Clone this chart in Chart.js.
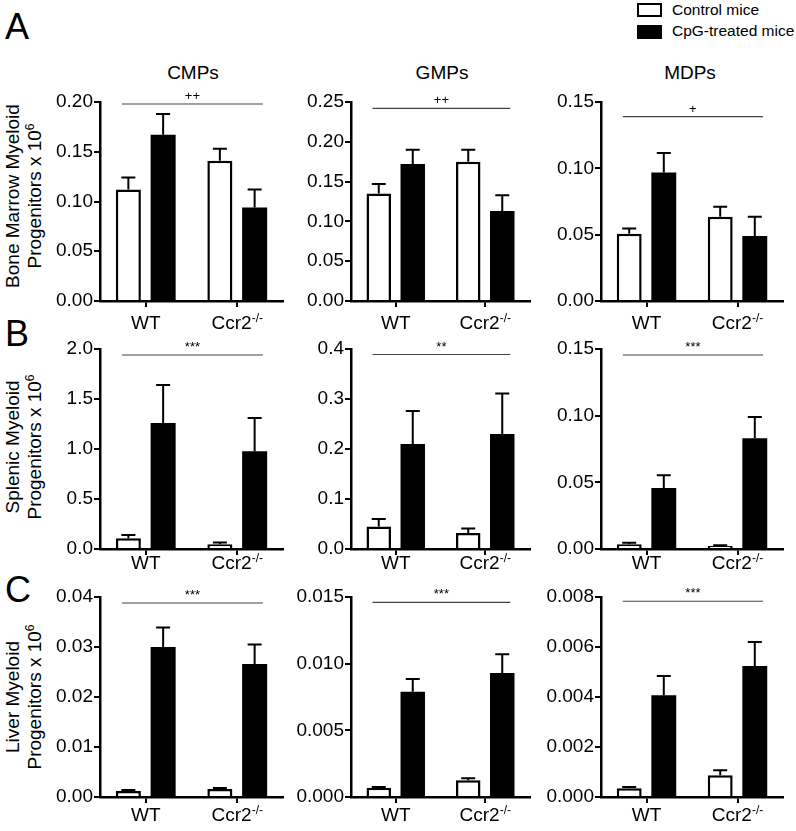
<!DOCTYPE html>
<html>
<head>
<meta charset="utf-8">
<script src="https://cdn.jsdelivr.net/npm/chart.js@4"></script>
<style>
body { margin: 0; background: #fff; width: 796px; height: 831px; position: relative; overflow: hidden;
       font-family: "Liberation Sans", Arial, sans-serif; color: #000; }
canvas { position: absolute; }
.letter { position: absolute; left: 5px; font-size: 36px; line-height: 36px; }
.title { position: absolute; top: 63px; font-size: 19px; line-height: 20px; transform: translateX(-50%); }
.ytitle { position: absolute; left: 24px; font-size: 19px; line-height: 22px; white-space: nowrap; text-align: center;
          transform: translate(-50%, -50%) rotate(-90deg); }
.ytitle sup { font-size: 12px; line-height: 0; }
.lbox { position: absolute; left: 637px; width: 25px; height: 14px; box-sizing: border-box; border: 2.5px solid #000; }
.ltext { position: absolute; left: 672px; font-size: 15.5px; line-height: 16px; }
</style>
</head>
<body>
<div class="lbox" style="top:3px; background:#fff"></div>
<div class="ltext" style="top:2px">Control mice</div>
<div class="lbox" style="top:25px; background:#000"></div>
<div class="ltext" style="top:23px">CpG-treated mice</div>

<div class="letter" style="top:9px">A</div>
<div class="letter" style="top:316px">B</div>
<div class="letter" style="top:572px">C</div>

<div class="title" style="left:193px">CMPs</div>
<div class="title" style="left:442px">GMPs</div>
<div class="title" style="left:690px">MDPs</div>

<div class="ytitle" style="top:196px">Bone Marrow Myeloid<br>Progenitors x 10<sup>6</sup></div>
<div class="ytitle" style="top:447px">Splenic Myeloid<br>Progenitors x 10<sup>6</sup></div>
<div class="ytitle" style="top:697px">Liver Myeloid<br>Progenitors x 10<sup>6</sup></div>

<script>
const groups = ['WT', 'Ccr2'];
const groupSup = ['', '-/-'];

// each row: [CMPs, GMPs, MDPs], each pair: [WT, Ccr2-/-]
const bmControl    = [[0.112, 0.141], [0.135, 0.175], [0.0507, 0.0635]];
const bmControlSem = [[0.012, 0.012], [0.012, 0.015], [0.004, 0.0075]];
const bmCpg        = [[0.167, 0.094], [0.172, 0.113], [0.0968, 0.049]];
const bmCpgSem     = [[0.021, 0.018], [0.018, 0.020], [0.0147, 0.0145]];

const spControl    = [[0.108, 0.047], [0.045, 0.032], [0.0035, 0.0022]];
const spControlSem = [[0.032, 0.017], [0.015, 0.009], [0.0012, 0.0006]];
const spCpg        = [[1.26, 0.977], [0.21, 0.23], [0.0458, 0.083]];
const spCpgSem     = [[0.38, 0.333], [0.066, 0.081], [0.0095, 0.016]];

const lvControl    = [[0.0012, 0.0016], [0.0007, 0.00125], [0.00035, 0.00087]];
const lvControlSem = [[0.0002, 0.0002], [0.00005, 0.00015], [0.00005, 0.0002]];
const lvCpg        = [[0.030, 0.0266], [0.0079, 0.0093], [0.00407, 0.00524]];
const lvCpgSem     = [[0.0039, 0.0039], [0.00095, 0.0014], [0.00077, 0.00096]];

const yMax    = [[0.20, 0.25, 0.15], [2.0, 0.4, 0.15], [0.04, 0.015, 0.008]];
const yStep   = [[0.05, 0.05, 0.05], [0.5, 0.1, 0.05], [0.01, 0.005, 0.002]];
const yDigits = [[2, 2, 2], [1, 1, 2], [2, 3, 3]];
const sigText  = [['++', '++', '+'], ['***', '**', '***'], ['***', '***', '***']];
const sigLevel = [[0.198, 0.242, 0.139], [1.94, 0.389, 0.1455], [0.0388, 0.0146, 0.00783]];

const rows = [
  [bmControl, bmControlSem, bmCpg, bmCpgSem],
  [spControl, spControlSem, spCpg, spCpgSem],
  [lvControl, lvControlSem, lvCpg, lvCpgSem]
];

// page layout
const colAxisX = [100, 351, 601];
const colRight = [283, 530, 783];
const rowTop = [102, 349, 597];
const rowBottom = [301, 549, 797];
const labelOffset = [28, 20, 24];
const AXIS_W = 60, PAD_TOP = 20, PAD_RIGHT = 4, XAXIS_H = 40;
const FONT = '"Liberation Sans", Arial, sans-serif';

const errorBars = {
  id: 'errorBars',
  afterDatasetsDraw(chart, args, opts) {
    const ctx = chart.ctx, y = chart.scales.y;
    ctx.save();
    ctx.strokeStyle = '#000';
    ctx.lineWidth = 2;
    chart.data.datasets.forEach((ds, i) => {
      chart.getDatasetMeta(i).data.forEach((bar, j) => {
        const top = y.getPixelForValue(ds.data[j] + opts.sem[i][j]);
        ctx.beginPath();
        ctx.moveTo(bar.x, bar.y);
        ctx.lineTo(bar.x, top);
        ctx.moveTo(bar.x - 7, top);
        ctx.lineTo(bar.x + 7, top);
        ctx.stroke();
      });
    });
    ctx.restore();
  }
};

const sigLine = {
  id: 'sigLine',
  afterDraw(chart, args, opts) {
    const ctx = chart.ctx, x = chart.scales.x, y = chart.scales.y;
    const yy = y.getPixelForValue(opts.level);
    const x0 = x.getPixelForValue(-0.26), x1 = x.getPixelForValue(1.28);
    ctx.save();
    ctx.strokeStyle = '#444';
    ctx.lineWidth = 1.2;
    ctx.beginPath();
    ctx.moveTo(x0, yy);
    ctx.lineTo(x1, yy);
    ctx.stroke();
    ctx.fillStyle = '#000';
    ctx.font = '13px ' + FONT;
    ctx.textAlign = 'center';
    ctx.textBaseline = 'alphabetic';
    ctx.fillText(opts.text, (x0 + x1) / 2, yy - 4);
    ctx.restore();
  }
};

const groupLabels = {
  id: 'groupLabels',
  afterDraw(chart, args, opts) {
    const ctx = chart.ctx, x = chart.scales.x;
    const base = chart.chartArea.bottom + opts.offset;
    ctx.save();
    ctx.fillStyle = '#000';
    ctx.textAlign = 'left';
    ctx.textBaseline = 'alphabetic';
    chart.data.labels.forEach((lab, i) => {
      ctx.font = '19px ' + FONT;
      const w1 = ctx.measureText(lab).width;
      ctx.font = '12px ' + FONT;
      const w2 = ctx.measureText(groupSup[i]).width;
      const sx = x.getPixelForValue(i) - (w1 + w2) / 2;
      ctx.font = '19px ' + FONT;
      ctx.fillText(lab, sx, base);
      ctx.font = '12px ' + FONT;
      ctx.fillText(groupSup[i], sx + w1, base - 7);
    });
    ctx.restore();
  }
};

function makePanel(r, c) {
  const [ctrl, ctrlSem, cpg, cpgSem] = rows[r];
  const canvas = document.createElement('canvas');
  const w = colRight[c] - colAxisX[c] + AXIS_W + PAD_RIGHT;
  const h = rowBottom[r] - rowTop[r] + PAD_TOP + XAXIS_H;
  canvas.width = w;
  canvas.height = h;
  canvas.style.width = w + 'px';
  canvas.style.height = h + 'px';
  canvas.style.left = (colAxisX[c] - AXIS_W) + 'px';
  canvas.style.top = (rowTop[r] - PAD_TOP) + 'px';
  document.body.appendChild(canvas);

  new Chart(canvas, {
    type: 'bar',
    data: {
      labels: groups,
      datasets: [
        { label: 'Control mice', data: ctrl[c], backgroundColor: '#fff', borderColor: '#000',
          borderWidth: 2.5, borderSkipped: 'start' },
        { label: 'CpG-treated mice', data: cpg[c], backgroundColor: '#000', borderWidth: 0 }
      ]
    },
    options: {
      responsive: false,
      animation: false,
      devicePixelRatio: 1,
      layout: { padding: { top: PAD_TOP, right: PAD_RIGHT, left: 0, bottom: 0 } },
      datasets: { bar: { barPercentage: 0.72, categoryPercentage: 0.76 } },
      scales: {
        x: {
          offset: true,
          afterFit: (s) => { s.height = XAXIS_H; },
          grid: { offset: false, drawOnChartArea: false, drawTicks: true, tickLength: 6, color: '#000', lineWidth: 2 },
          border: { display: true, color: '#000', width: 2.5 },
          ticks: { display: false }
        },
        y: {
          min: 0,
          max: yMax[r][c],
          afterFit: (s) => { s.width = AXIS_W; },
          grid: { drawOnChartArea: false, drawTicks: true, tickLength: 6, color: '#000', lineWidth: 2 },
          border: { display: true, color: '#000', width: 2.5 },
          ticks: {
            stepSize: yStep[r][c],
            autoSkip: false,
            padding: 1,
            color: '#000',
            font: { family: FONT, size: 19 },
            callback: (v) => Number(v).toFixed(yDigits[r][c])
          }
        }
      },
      plugins: {
        legend: { display: false },
        tooltip: { enabled: false },
        errorBars: { sem: [ctrlSem[c], cpgSem[c]] },
        sigLine: { text: sigText[r][c], level: sigLevel[r][c] },
        groupLabels: { offset: labelOffset[r] }
      }
    },
    plugins: [errorBars, sigLine, groupLabels]
  });
}

for (let r = 0; r < 3; r++) {
  for (let c = 0; c < 3; c++) makePanel(r, c);
}
</script>
</body>
</html>
